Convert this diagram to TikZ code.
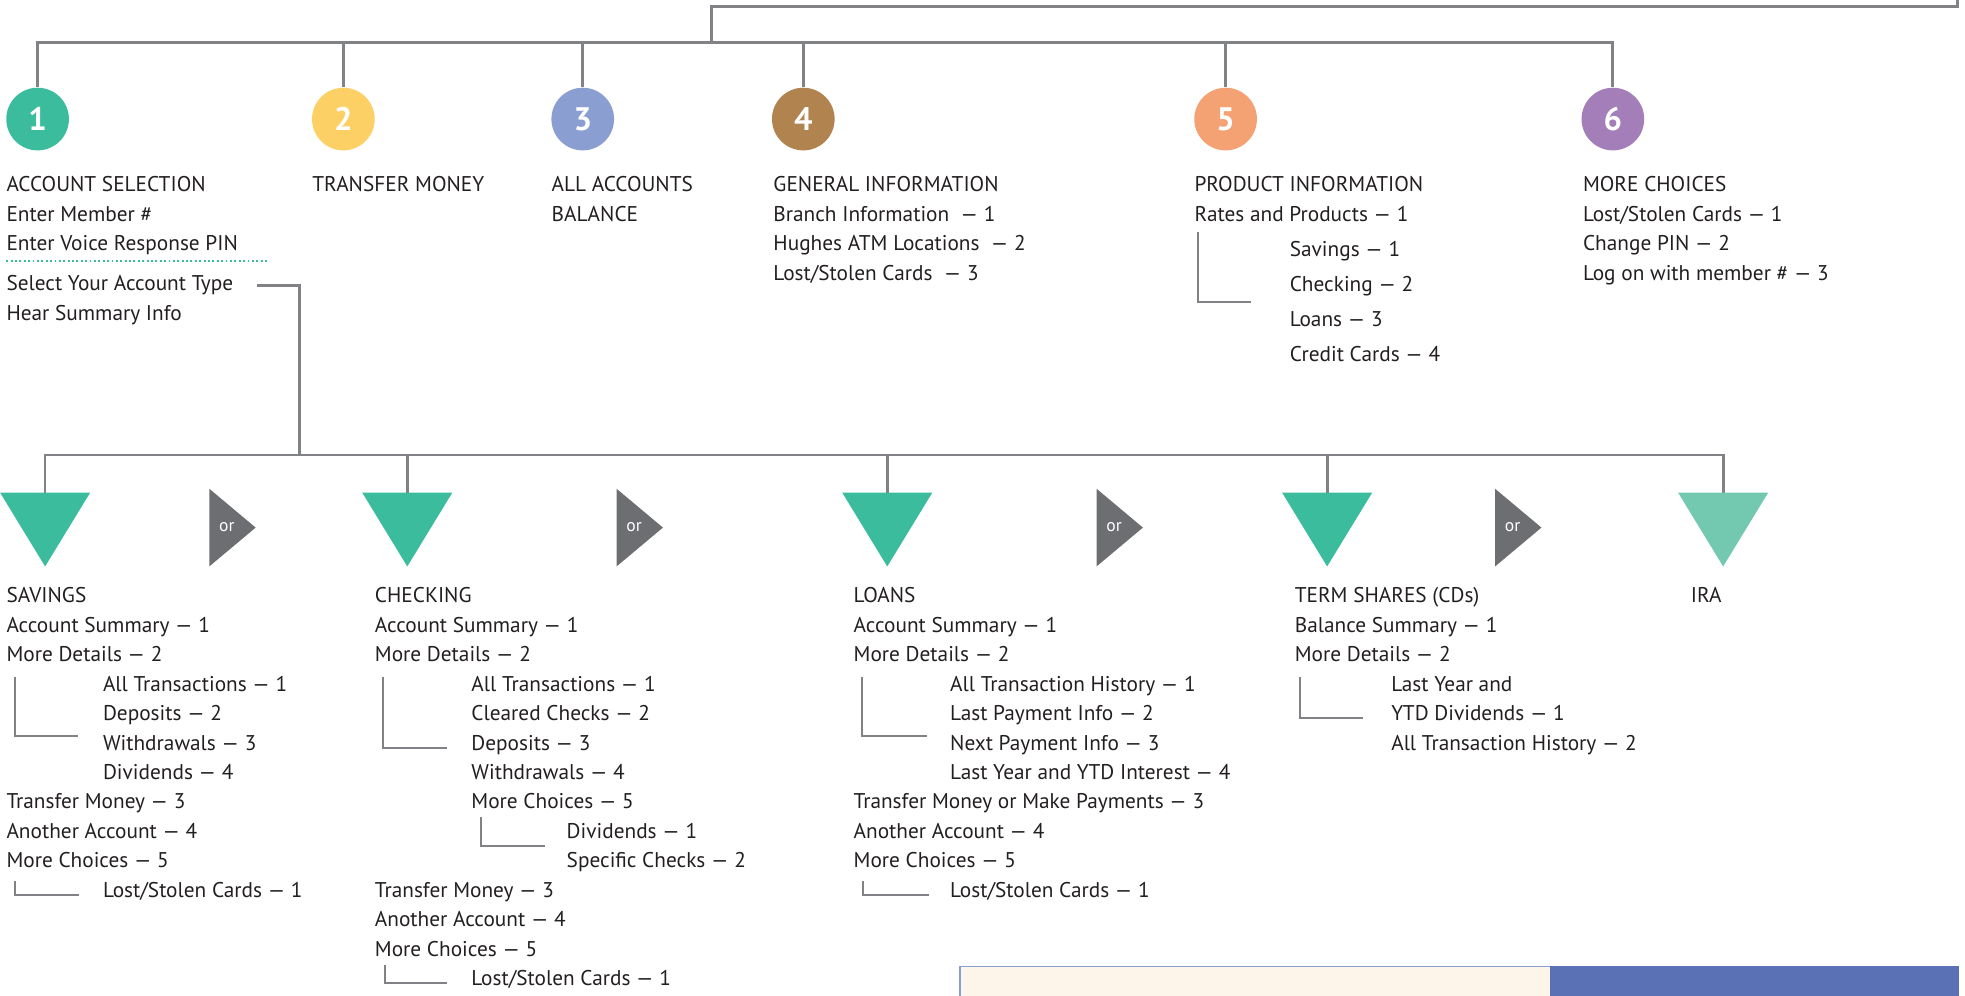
\documentclass[tikz,border=0pt]{standalone}
\usepackage{fontspec}
\setmainfont{PT Sans}
\definecolor{linegray}{RGB}{128,130,133}
\definecolor{inkgray}{RGB}{35,31,32}
\definecolor{ortri}{RGB}{109,110,113}
\definecolor{tealA}{RGB}{59,189,157}
\definecolor{tealB}{RGB}{114,201,176}
\definecolor{optyellow}{RGB}{253,208,102}
\definecolor{optblue}{RGB}{138,158,209}
\definecolor{optbrown}{RGB}{176,131,79}
\definecolor{optsalmon}{RGB}{244,162,116}
\definecolor{optpurple}{RGB}{164,126,185}
\definecolor{creamfill}{RGB}{253,245,233}
\definecolor{barblue}{RGB}{90,114,181}
\newcommand{\lvlone}{\hspace*{77pt}}
\newcommand{\lvltwo}{\hspace*{153pt}}
\begin{document}
\begin{tikzpicture}[x=1pt,y=-1pt,
    conn/.style={draw=linegray,line width=2.2pt},
    brack/.style={draw=linegray,line width=1.6pt},
    numcirc/.style={circle,minimum size=50pt,inner sep=0pt,text=white,
        font=\fontsize{26}{26}\selectfont\bfseries},
    menu/.style={anchor=base west,inner sep=0pt,align=left,text=inkgray,
        font=\fontsize{17}{23.5}\selectfont},
    ortext/.style={inner sep=0pt,text=white,font=\fontsize{14}{14}\selectfont}]
    \useasboundingbox (0,0) rectangle (1568,794);

    % Numbered options
    \node[numcirc,fill=tealA] (n1) at (30,95) {1};
    \node[numcirc,fill=optyellow] (n2) at (274,95) {2};
    \node[numcirc,fill=optblue] (n3) at (465,95) {3};
    \node[numcirc,fill=optbrown] (n4) at (641,95) {4};
    \node[numcirc,fill=optsalmon] (n5) at (978,95) {5};
    \node[numcirc,fill=optpurple] (n6) at (1287,95) {6};

    % Top connectors
    \coordinate (feed) at (1562,0);
    \coordinate (bend) at (568,5);
    \coordinate (tophub) at (568,34);
    \draw[conn] (feed) |- (bend) -- (tophub);
    \draw[conn] (n1.north) |- (tophub) -| (n6.north);
    \foreach \n in {n2,n3,n4,n5}
        \draw[conn] (\n.north) -- (\n.north |- tophub);

    % Option texts (placed at the baseline of their last line)
    \node[menu] (accsel) at (5,255.5) {ACCOUNT SELECTION\\Enter Member \#\\Enter Voice Response PIN\\[8.5pt]Select Your Account Type\\Hear Summary Info};
    \draw[tealA,line width=1.5pt,dash pattern=on 1.5pt off 2pt] (5,208) -- (215,208);
    \node[menu] (trf) at (249,153) {TRANSFER MONEY};
    \node[menu] (allbal) at (440,176.5) {ALL ACCOUNTS\\BALANCE};
    \node[menu] (geninfo) at (617,223.5) {GENERAL INFORMATION\\Branch Information~~— 1\\Hughes ATM Locations~~— 2\\Lost/Stolen Cards~~— 3};
    \node[menu] (prodinfo) at (953,288.5) {PRODUCT INFORMATION\\Rates and Products — 1\\[4.5pt]\hspace*{76pt}Savings — 1\\[4.5pt]\hspace*{76pt}Checking — 2\\[4.5pt]\hspace*{76pt}Loans — 3\\[4.5pt]\hspace*{76pt}Credit Cards — 4};
    \draw[brack] (956,185) |- (998,241);
    \node[menu] (morech) at (1263,223.5) {MORE CHOICES\\Lost/Stolen Cards — 1\\Change PIN — 2\\Log on with member \# — 3};

    % Account type connectors
    \coordinate (selout) at (205,228);
    \coordinate (acchub) at (239,363);
    \coordinate (tsav) at (36,393);
    \coordinate (tchk) at (325,393);
    \coordinate (tloan) at (708,393);
    \coordinate (tterm) at (1059,393);
    \coordinate (tira) at (1375,393);
    \draw[conn] (selout) -| (acchub);
    \draw[conn] (tsav) |- (acchub) -| (tira);
    \foreach \t in {tchk,tloan,tterm}
        \draw[conn] (\t) -- (\t |- acchub);

    % Account type triangles
    \foreach \t in {tsav,tchk,tloan,tterm}
        \fill[tealA] (\t) ++(-36,0) -- ++(72,0) -- ++(-36,59) -- cycle;
    \fill[tealB] (tira) ++(-36,0) -- ++(72,0) -- ++(-36,59) -- cycle;

    % "or" arrows
    \foreach \x [count=\i] in {167,492,875,1193} {
        \fill[ortri] (\x,390) -- (\x,452) -- (\x+37,421) -- cycle;
        \node[ortext] (or\i) at (\x+14,421) {or};
    }

    % Account type menus
    \node[menu] (sav) at (5,716) {SAVINGS\\Account Summary — 1\\More Details — 2\\\lvlone All Transactions — 1\\\lvlone Deposits — 2\\\lvlone Withdrawals — 3\\\lvlone Dividends — 4\\Transfer Money — 3\\Another Account — 4\\More Choices — 5\\\lvlone Lost/Stolen Cards — 1};
    \draw[brack] (12,540) |- (62,587);
    \draw[brack] (12,703) |- (63,714);

    \node[menu] (chk) at (299,786.5) {CHECKING\\Account Summary — 1\\More Details — 2\\\lvlone All Transactions — 1\\\lvlone Cleared Checks — 2\\\lvlone Deposits — 3\\\lvlone Withdrawals — 4\\\lvlone More Choices — 5\\\lvltwo Dividends — 1\\\lvltwo Specific Checks — 2\\Transfer Money — 3\\Another Account — 4\\More Choices — 5\\\lvlone Lost/Stolen Cards — 1};
    \draw[brack] (306,540) |- (357,597);
    \draw[brack] (384,652) |- (435,675);
    \draw[brack] (307,770) |- (357,784);

    \node[menu] (loan) at (681,716) {LOANS\\Account Summary — 1\\More Details — 2\\\lvlone All Transaction History — 1\\\lvlone Last Payment Info — 2\\\lvlone Next Payment Info — 3\\\lvlone Last Year and YTD Interest — 4\\Transfer Money or Make Payments — 3\\Another Account — 4\\More Choices — 5\\\lvlone Lost/Stolen Cards — 1};
    \draw[brack] (688,540) |- (740,587);
    \draw[brack] (689,703) |- (741,714);

    \node[menu] (term) at (1033,598.5) {TERM SHARES (CDs)\\Balance Summary — 1\\More Details — 2\\\lvlone Last Year and\\\lvlone YTD Dividends — 1\\\lvlone All Transaction History — 2};
    \draw[brack] (1037,540) |- (1088,573);

    \node[menu] (ira) at (1349,481) {IRA};

    % Bottom panels
    \filldraw[fill=creamfill,draw=optblue,line width=1pt] (766,800) |- (1237,771) -- (1237,800);
    \fill[barblue] (1237,771) rectangle (1563,800);
\end{tikzpicture}
\end{document}
